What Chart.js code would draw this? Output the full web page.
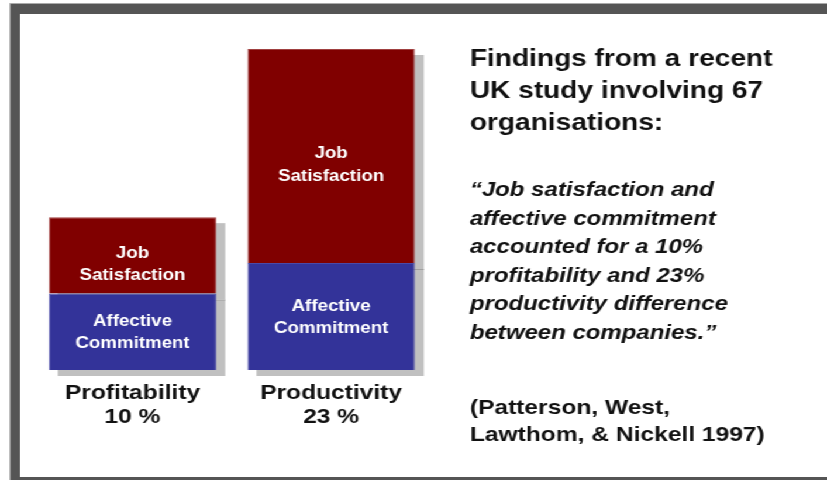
<!DOCTYPE html>
<html>
<head>
<meta charset="utf-8">
<script src="https://cdn.jsdelivr.net/npm/chart.js@4.4.0/dist/chart.umd.min.js"></script>
<style>
  html, body { margin: 0; padding: 0; background: #fff; overflow: hidden; }
  /* slide was stretched sideways, so everything is drawn narrow then scaled */
  #wrap { position: relative; width: 707px; height: 480px; transform: scaleX(1.1697); transform-origin: 0 0; }
  #frame { position: absolute; left: 8.5px; top: 4px; width: 760px; height: 463px;
           border: 10px solid #555; border-left-width: 8.5px; box-shadow: 0 0 0 1px #aaa; }
  #box { position: absolute; left: 0; top: 0; width: 707px; height: 480px; }
</style>
</head>
<body>
<div id="wrap">
  <div id="frame"></div>
  <div id="box"><canvas id="slideChart"></canvas></div>
</div>
<script>
// values
const categories = [['Profitability', '10 %'], ['Productivity', '23 %']];
const commitment = [5, 7];
const satisfaction = [5, 14];
const commitmentLines = ['Affective', 'Commitment'];
const satisfactionLines = ['Job', 'Satisfaction'];

// text block on the right
const titleLines = ['Findings from a recent', 'UK study involving 67', 'organisations:'];
const quoteLines = ['\u201cJob satisfaction and', 'affective commitment', 'accounted for a 10%',
  'profitability and 23%', 'productivity difference', 'between companies.\u201d'];
const sourceLines = ['(Patterson, West,', 'Lawthom, & Nickell 1997)'];

const FONT = "'Liberation Sans', Arial, sans-serif";

// grey drop shadow behind each stacked bar
const shadowPlugin = {
  id: 'shadow',
  beforeDatasetsDraw(chart) {
    const ctx = chart.ctx;
    const dx = 7.7, dy = 6;
    ctx.save();
    chart.data.datasets.forEach((ds, i) => {
      chart.getDatasetMeta(i).data.forEach(bar => {
        const left = bar.x - bar.width / 2;
        ctx.fillStyle = '#c0c0c0';
        ctx.fillRect(left + dx, bar.y + dy, bar.width, bar.base - bar.y);
        if (i === 0) {
          ctx.strokeStyle = '#a0a0a0';
          ctx.lineWidth = 1;
          ctx.beginPath();
          ctx.moveTo(left + dx, bar.y + dy + 0.5);
          ctx.lineTo(left + dx + bar.width, bar.y + dy + 0.5);
          ctx.stroke();
        }
      });
    });
    ctx.restore();
  }
};

// white two-line names inside each segment
const segmentLabels = {
  id: 'segmentLabels',
  afterDatasetsDraw(chart) {
    const ctx = chart.ctx;
    ctx.save();
    ctx.fillStyle = '#fff';
    ctx.font = 'bold 16px ' + FONT;
    ctx.textAlign = 'center';
    ctx.textBaseline = 'middle';
    chart.data.datasets.forEach((ds, i) => {
      chart.getDatasetMeta(i).data.forEach(bar => {
        const mid = (bar.y + bar.base) / 2 + ds.shift;
        ds.lines.forEach((t, k) => {
          ctx.fillText(t, bar.x, mid + (k - (ds.lines.length - 1) / 2) * 22.5);
        });
      });
    });
    ctx.restore();
  }
};

const sideText = {
  id: 'sideText',
  afterDraw(chart) {
    const ctx = chart.ctx;
    const x = 401.7;
    ctx.save();
    ctx.fillStyle = '#111';
    ctx.textAlign = 'left';
    ctx.textBaseline = 'alphabetic';
    ctx.font = 'bold 24px ' + FONT;
    titleLines.forEach((t, k) => ctx.fillText(t, x, 66 + k * 32));
    ctx.font = 'italic bold 20.5px ' + FONT;
    quoteLines.forEach((t, k) => ctx.fillText(t, x, 196 + k * 28.5));
    ctx.font = 'bold 21px ' + FONT;
    sourceLines.forEach((t, k) => ctx.fillText(t, x, 414 + k * 27));
    ctx.restore();
  }
};

new Chart(document.getElementById('slideChart'), {
  type: 'bar',
  data: {
    labels: categories,
    datasets: [
      { label: 'Affective Commitment', data: commitment, lines: commitmentLines, shift: 1,
        backgroundColor: '#333399', borderColor: '#4a4aa8', borderWidth: 1 },
      { label: 'Job Satisfaction', data: satisfaction, lines: satisfactionLines, shift: 9,
        backgroundColor: '#800000', borderColor: '#a04040', borderWidth: 1 }
    ]
  },
  options: {
    responsive: true,
    maintainAspectRatio: false,
    animation: false,
    layout: { padding: { top: 49, left: 28.4, right: 339, bottom: 0 } },
    categoryPercentage: 1,
    barPercentage: 0.843,
    plugins: { legend: { display: false }, tooltip: { enabled: false } },
    scales: {
      x: {
        stacked: true,
        grid: { display: false, drawTicks: false },
        border: { display: false },
        ticks: { color: '#111', padding: 11, font: { family: FONT, size: 21, weight: 'bold', lineHeight: '24px' } },
        afterFit: s => { s.height = 110; }
      },
      y: { stacked: true, display: false, min: 0, max: 21 }
    }
  },
  plugins: [shadowPlugin, segmentLabels, sideText]
});
</script>
</body>
</html>
